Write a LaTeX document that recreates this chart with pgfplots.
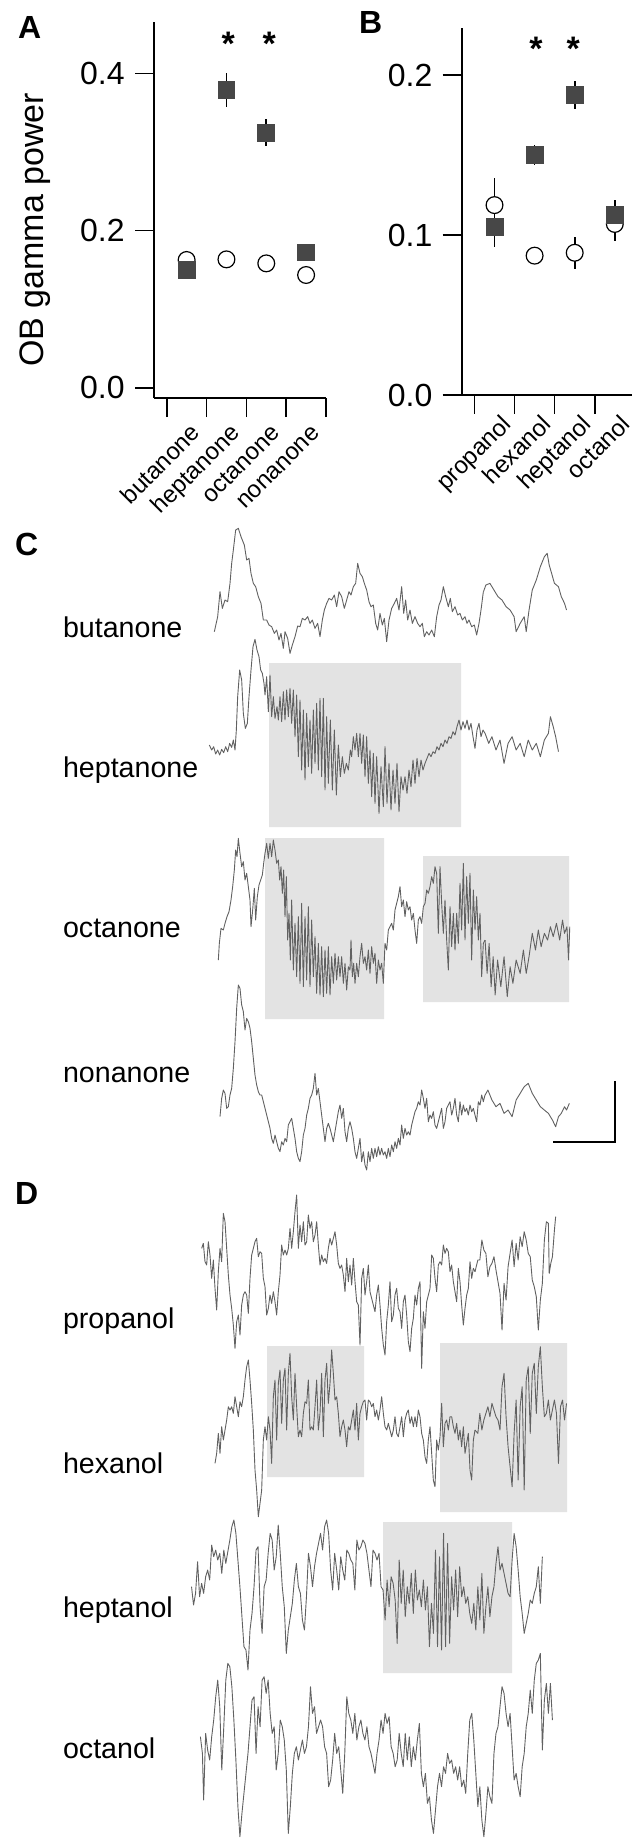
\documentclass[border=0pt]{standalone}
\usepackage{fontspec}
\setmainfont{Liberation Sans}
\usepackage{pgfplots}
\pgfplotsset{compat=1.18}
% 1 px of the reference = 0.5pt
\pgfplotsset{
  panel/.style={
    scale only axis, clip=false,
    axis lines=left, axis line style={-, line width=0.8pt},
    tick align=outside, major tick length=9.5pt,
    tick style={black, line width=0.8pt},
    xticklabels={,,,,,},
    /pgf/number format/assume math mode=true,
    yticklabel style={font=\fontsize{16}{18}\selectfont, anchor=east, inner sep=0pt, xshift=-5pt,
      /pgf/number format/fixed, /pgf/number format/fixed zerofill, /pgf/number format/precision=1},
  },
  errs/.style={forget plot, draw=none, mark=none,
    error bars/.cd, y dir=both, y explicit, error mark=none,
    error bar style={draw=black, line width=0.8pt}},
  odor/.style={only marks, mark=square*, mark size=4.2pt, mark options={draw=black!72, fill=black!72}},
  ctrl/.style={only marks, mark=*, mark size=4.2pt, mark options={draw=black, fill=white, line width=0.6pt}},
  trace/.style={black!62, line width=0.45pt, mark=none, line join=round},
  zc/.style n args={4}{x filter/.expression={#1+x/#3}, y filter/.expression={#2+y/#4}},
  gbox/.style={fill=black!11, draw=none, forget plot},
}
\tikzset{
  cat/.style={rotate=45, anchor=base east, inner sep=0pt, font=\fontsize{12}{14}\selectfont},
  lab/.style={anchor=base west, font=\fontsize{14.3}{16}\selectfont},
  letter/.style={anchor=base west, font=\fontsize{16}{18}\selectfont\bfseries},
  star/.style={anchor=base, font=\fontsize{17}{20}\selectfont\bfseries},
}
\begin{document}
\begin{tikzpicture}
\useasboundingbox (0,0) rectangle (316pt,-919.5pt);

% ---------------- panel A
\begin{axis}[panel, at={(77pt,-199pt)}, anchor=south west,
  width=86pt, height=188pt,
  xmin=-0.819, xmax=3.5, ymin=-0.0131, ymax=0.4653,
  xtick={-0.5,0.5,1.5,2.5,3.5},
  ytick={0,0.2,0.4},
  ylabel={OB gamma power},
  every axis y label/.style={at={(rel axis cs:-0.645,0.447)}, rotate=90, anchor=base,
    font=\fontsize{17}{20}\selectfont},
]
\addplot[errs] coordinates {
  (0,0.1497) +- (0,0.005)
  (1,0.3788) +- (0,0.0215)
  (2,0.3244) +- (0,0.0174)
  (3,0.1722) +- (0,0.004)
};
\addplot[ctrl] coordinates {(0,0.1625) (1,0.1633) (2,0.1582) (3,0.1434)};
\addplot[odor] coordinates {(0,0.1497) (1,0.3788) (2,0.3244) (3,0.1722)};
\node[cat] at (axis cs:0.377,-0.0589) {butanone};
\node[cat] at (axis cs:1.377,-0.0589) {heptanone};
\node[cat] at (axis cs:2.377,-0.0589) {octanone};
\node[cat] at (axis cs:3.377,-0.0589) {nonanone};
\end{axis}

% ---------------- panel B
\begin{axis}[panel, at={(230.85pt,-197.5pt)}, anchor=south west,
  width=85.15pt, height=183.5pt,
  xmin=-0.818, xmax=3.429, ymin=0, ymax=0.2294,
  xtick={-0.5,0.5,1.5,2.5},
  ytick={0,0.1,0.2},
]
\addplot[errs] coordinates {
  (0,0.1187) +- (0,0.017)
  (0,0.1052) +- (0,0.013)
  (1,0.1500) +- (0,0.006)
  (2,0.1875) +- (0,0.0085)
  (2,0.0889) +- (0,0.010)
  (3,0.1125) +- (0,0.0094)
  (3,0.1069) +- (0,0.0104)
};
\addplot[ctrl] coordinates {(0,0.1187) (1,0.0871) (2,0.0889) (3,0.1069)};
\addplot[odor] coordinates {(0,0.1052) (1,0.1500) (2,0.1875) (3,0.1125)};
\node[cat] at (axis cs:0.449,-0.0191) {propanol};
\node[cat] at (axis cs:1.449,-0.0191) {hexanol};
\node[cat] at (axis cs:2.449,-0.0191) {heptanol};
\node[cat] at (axis cs:3.42,-0.0191) {octanol};
\end{axis}

% ---------------- panels C and D, in reference pixels
\begin{axis}[at={(0pt,0pt)}, anchor=north west, scale only axis,
  width=316pt, height=919.5pt, hide axis, clip=false,
  xmin=0, xmax=632, ymin=0, ymax=1839, y dir=reverse]

% gamma episodes
\addplot[gbox] coordinates {(269,663) (461,663) (461,827) (269,827) (269,663)};
\addplot[gbox] coordinates {(265,838) (384,838) (384,1019) (265,1019) (265,838)};
\addplot[gbox] coordinates {(423,856) (569,856) (569,1002) (423,1002) (423,856)};
\addplot[gbox] coordinates {(267,1346) (364,1346) (364,1477) (267,1477) (267,1346)};
\addplot[gbox] coordinates {(440,1343) (567,1343) (567,1512) (440,1512) (440,1343)};
\addplot[gbox] coordinates {(383,1522) (512,1522) (512,1673) (383,1673) (383,1522)};

% butanone
\addplot[trace, zc={165}{520}{3}{3}] coordinates {
(148,335)(158,290)(165,215)(172,265)(180,240)(188,245)(195,190)(200,130)(205,90)(212,30)
(220,25)(228,50)(238,75)(245,120)(252,115)(258,160)(265,190)(272,200)(280,230)(288,250)
(295,300)(305,300)(312,315)(320,320)(328,340)(335,330)(342,360)(348,340)(355,385)(360,335)
(368,355)(375,400)(382,375)(390,350)(398,318)(405,320)(412,295)(420,300)(428,290)(435,310)
(442,300)(450,325)(458,310)(465,350)(472,300)(478,270)(485,250)(492,235)(500,240)(508,225)
(515,260)(522,215)(530,230)(538,265)(545,240)(552,215)(558,225)(565,200)(572,190)(578,130)
(585,160)(592,170)(598,190)(605,210)(612,245)(618,260)(625,255)(632,310)(638,330)(645,280)
(652,315)(658,295)(665,365)(672,300)(680,265)(688,250)(695,235)(702,270)(710,200)(716,280)
(722,240)(728,300)(735,270)(742,310)(750,290)(758,310)(765,320)(772,310)(778,350)(785,335)
(792,345)(800,330)(808,350)(815,290)(822,255)(828,240)(835,200)(842,230)(850,260)(856,235)
(862,275)(870,260)(878,285)(885,280)(892,300)(900,290)(906,310)(912,300)(920,320)(928,315)
(935,345)(942,310)(948,270)(955,215)};
\addplot[trace, zc={0}{450}{2.48}{3}] coordinates {
(1199,425)(1205,405)(1215,400)(1225,420)(1235,440)(1245,450)(1255,470)(1265,480)(1275,500)
(1280,545)(1290,520)(1300,500)(1305,545)(1312,480)(1320,420)(1330,390)(1340,350)(1350,320)
(1357,310)(1362,345)(1368,370)(1375,400)(1385,410)(1392,440)(1400,460)(1405,480)};

% heptanone
\addplot[trace, zc={165}{630}{3}{3}] coordinates {
(133,345)(140,360)(146,350)(152,372)(158,360)(164,375)(170,358)(176,368)(182,350)(188,365)
(194,340)(200,352)(205,330)(210,360)(214,300)(218,200)(224,120)(230,150)(235,250)(241,295)
(247,280)(252,200)(258,120)(264,50)(270,28)(276,60)(282,80)(287,120)(292,130)(297,160)
(300,195)(305,140)(310,245)(315,135)(320,260)(325,200)(330,265)(336,230)(340,270)(345,200)
(350,275)(355,185)(360,270)(365,180)(370,260)(375,175)(380,280)(385,180)(390,320)(395,195)
(400,380)(405,210)(410,420)(415,240)(420,450)(425,250)(430,410)(435,270)(440,430)(445,240)
(450,400)(455,220)(460,420)(465,205)(470,440)(475,205)(480,480)(485,260)(490,460)(496,270)
(502,480)(508,300)(514,495)(520,345)(526,440)(532,380)(538,430)(544,400)(550,420)(556,360)
(560,380)(565,320)(570,360)(575,310)(580,380)(585,310)(590,400)(595,315)(600,440)(605,320)
(610,460)(615,360)(620,500)(625,370)(630,520)(635,380)(642,550)(648,410)(655,530)(660,350)
(666,520)(672,400)(678,540)(684,420)(690,520)(696,400)(702,545)(708,440)(714,480)(720,440)
(726,490)(732,420)(738,470)(744,390)(750,460)(756,385)(762,440)(768,390)(774,420)(780,400)
(786,385)(792,370)(798,380)(804,365)(810,370)(816,350)(822,360)(828,340)(834,350)(840,330)
(846,340)(852,320)(858,325)(864,305)(870,315)(876,290)(882,270)(888,300)(894,275)(900,295)
(906,270)(912,300)(918,280)(924,320)(930,355)(936,300)(942,280)(948,320)(954,300)(960,310)};
\addplot[trace, zc={0}{450}{2.48}{3}] coordinates {
(1203,850)(1212,880)(1220,860)(1230,900)(1240,870)(1250,940)(1260,880)(1270,860)(1280,900)
(1290,880)(1300,920)(1310,870)(1320,900)(1330,880)(1340,920)(1350,870)(1360,850)(1365,800)
(1372,830)(1378,860)(1385,905)};

% octanone
\addplot[trace, zc={165}{830}{3}{3}] coordinates {
(160,390)(163,340)(168,295)(175,300)(180,280)(186,260)(192,245)(198,210)(203,170)(208,120)
(212,60)(216,80)(220,25)(225,70)(230,110)(235,95)(240,150)(245,130)(250,170)(255,210)
(258,290)(263,240)(268,175)(272,270)(277,200)(282,165)(287,150)(292,135)(296,100)(300,70)
(305,40)(310,85)(315,40)(320,80)(325,30)(330,60)(335,100)(340,90)(344,150)(348,110)
(352,190)(356,120)(360,260)(364,140)(368,330)(372,250)(376,390)(380,210)(385,420)(390,280)
(395,440)(400,260)(405,460)(410,220)(415,470)(420,260)(425,450)(430,230)(435,470)(440,270)
(445,440)(450,320)(455,490)(460,340)(465,495)(470,350)(475,500)(480,360)(485,490)(490,350)
(495,495)(500,380)(505,460)(510,370)(515,450)(520,380)(525,440)(530,380)(535,460)(540,400)
(545,480)(550,410)(555,420)(558,330)(562,440)(566,400)(570,460)(575,400)(580,440)(585,380)
(590,340)(595,400)(600,380)(605,420)(610,360)(615,430)(620,350)(625,400)(630,370)(635,460)
(640,390)(645,420)(650,400)(655,460)(660,340)(665,360)(670,300)(675,290)(680,280)(685,300)
(690,240)(695,220)(700,200)(705,170)(710,230)(715,210)(720,260)(725,215)(730,240)(735,230)
(740,270)(745,250)(750,300)(755,340)(760,270)(765,260)(770,280)(775,230)(780,220)(785,180)
(790,190)(795,170)(800,140)(805,160)(810,110)(815,130)(820,310)(825,110)(830,220)(835,310)
(840,210)(845,330)(850,420)(855,230)(860,350)(865,250)(870,360)(875,250)(880,340)(885,160)
(890,300)(895,100)(900,330)(905,140)(910,280)(915,130)(920,390)(925,180)(930,300)(935,200)
(940,330)(945,250)(950,440)(955,340)(960,330)};
\addplot[trace, zc={0}{800}{2.48}{3}] coordinates {
(1203,420)(1208,520)(1213,430)(1218,560)(1223,470)(1228,585)(1234,480)(1242,560)(1250,470)
(1258,590)(1265,500)(1272,550)(1280,480)(1290,520)(1298,450)(1305,520)(1312,470)(1320,400)
(1328,450)(1335,390)(1342,440)(1350,400)(1358,420)(1365,380)(1372,410)(1380,370)(1388,420)
(1395,360)(1400,400)(1406,380)(1410,480)(1413,380)};

% nonanone
\addplot[trace, zc={165}{975}{3}{3}] coordinates {
(165,425)(170,370)(175,345)(180,355)(185,400)(190,395)(195,360)(200,340)(205,280)(210,200)
(215,100)(220,30)(225,40)(230,90)(235,110)(240,165)(245,130)(250,140)(255,160)(260,200)
(265,250)(270,300)(275,330)(280,350)(285,360)(290,360)(295,380)(300,400)(305,420)(310,440)
(315,460)(320,490)(325,505)(330,480)(335,500)(340,520)(345,530)(350,500)(355,510)(360,490)
(365,500)(370,450)(375,440)(380,430)(385,460)(390,490)(395,530)(400,550)(405,560)(410,530)
(415,480)(420,460)(425,420)(430,400)(435,370)(440,360)(445,340)(450,295)(455,360)(460,340)
(465,380)(470,420)(475,460)(480,500)(485,460)(490,445)(495,460)(500,480)(505,500)(510,470)
(515,440)(520,410)(525,390)(530,430)(535,400)(540,470)(545,500)(550,460)(555,440)(560,460)
(565,490)(570,530)(575,550)(580,520)(585,490)(590,560)(595,530)(600,570)(605,585)(610,530)
(615,560)(620,520)(625,550)(630,520)(635,545)(640,515)(645,540)(650,520)(655,540)(660,530)
(665,550)(670,520)(675,545)(680,510)(685,530)(690,500)(695,520)(700,490)(705,510)(710,450)
(715,490)(720,460)(725,480)(730,470)(735,480)(740,450)(745,430)(750,410)(755,400)(760,380)
(765,390)(770,345)(775,370)(780,400)(785,370)(790,440)(795,420)(800,430)(805,410)(810,450)
(815,460)(820,440)(825,420)(830,400)(835,460)(840,440)(845,400)(850,390)(855,380)(860,420)
(865,400)(870,370)(875,420)(880,440)(885,380)(890,420)(895,390)(900,410)(905,400)(910,420)
(915,390)(920,410)(925,400)(930,420)(935,440)(940,380)(945,390)(950,360)(955,380)(960,360)};
\addplot[trace, zc={0}{800}{2.48}{3}] coordinates {
(1203,885)(1210,870)(1220,900)(1230,920)(1240,910)(1250,940)(1260,930)(1270,950)(1280,900)
(1290,880)(1300,860)(1310,850)(1320,880)(1330,900)(1340,920)(1350,930)(1360,940)(1370,960)
(1378,980)(1385,950)(1392,940)(1400,920)(1405,930)(1412,910)};

% scale bar
\addplot[black, line width=0.75pt, mark=none] coordinates {(553,1142) (615,1142) (615,1081)};

% propanol
\addplot[trace, zc={155}{1195}{3}{3}] coordinates {
(140,160)(145,145)(150,200)(155,210)(160,140)(165,180)(170,250)(175,195)(180,280)(185,345)
(190,230)(195,160)(200,200)(205,55)(210,80)(215,160)(220,240)(225,300)(230,340)(235,390)
(240,460)(245,380)(250,360)(255,420)(260,330)(265,300)(270,290)(275,300)(280,355)(285,250)
(290,180)(295,160)(300,140)(305,130)(310,185)(315,170)(320,175)(325,250)(330,275)(335,360)
(340,340)(345,300)(350,325)(355,290)(360,320)(365,360)(370,290)(375,240)(380,150)(385,180)
(390,165)(395,180)(400,160)(405,100)(410,160)(415,110)(420,50)(425,0)(430,160)(435,90)
(440,140)(445,80)(450,150)(455,140)(460,60)(465,100)(470,80)(475,140)(480,120)(485,80)
(490,150)(495,210)(500,180)(505,200)(510,190)(515,205)(520,160)(525,130)(530,150)(535,130)
(540,110)(545,150)(550,205)(555,220)(560,210)(565,240)(570,290)(575,190)(580,260)(585,210)
(590,270)(595,190)(600,260)(605,320)(610,330)(615,450)(620,250)(625,220)(630,300)(635,260)
(640,210)(645,290)(650,310)(655,330)(660,350)(665,300)(670,270)(675,330)(680,400)(685,450)
(690,480)(695,380)(700,330)(705,260)(710,380)(715,360)(720,300)(725,280)(730,340)(735,350)
(740,400)(745,320)(750,300)(755,360)(760,440)(765,470)(770,400)(775,370)(780,300)(785,330)
(790,280)(795,260)(800,520)(805,350)(810,400)(815,320)(820,300)(825,280)(830,180)(835,190)
(840,250)(845,290)(850,210)(855,200)(860,210)(865,150)(870,175)(875,160)(880,170)(885,230)
(890,210)(895,260)(900,290)(905,320)(910,220)(915,260)(920,330)(925,390)(930,340)(935,300)
(940,280)(945,200)(950,250)(955,220)(960,230)};
\addplot[trace, zc={0}{1200}{2.48}{3}] coordinates {
(1178,215)(1185,180)(1190,180)(1195,120)(1200,150)(1205,160)(1210,230)(1215,200)(1220,190)
(1225,170)(1230,210)(1240,280)(1245,390)(1250,250)(1255,300)(1260,200)(1265,160)(1270,120)
(1275,200)(1280,130)(1285,180)(1290,110)(1295,140)(1300,95)(1305,120)(1310,160)(1315,170)
(1320,240)(1325,260)(1330,290)(1335,390)(1340,300)(1345,250)(1350,120)(1355,65)(1360,70)
(1362,220)(1366,190)(1370,170)(1375,90)(1378,50)};

% hexanol
\addplot[trace, zc={155}{1330}{3}{3}] coordinates {
(180,400)(185,370)(190,310)(195,370)(200,290)(205,330)(210,300)(215,270)(220,230)(225,240)
(230,230)(235,250)(240,200)(245,230)(250,260)(255,215)(260,230)(265,200)(270,150)(275,110)
(280,90)(285,150)(290,220)(295,300)(300,420)(305,480)(310,560)(315,520)(320,480)(325,330)
(330,290)(335,330)(340,260)(345,300)(350,400)(355,200)(360,150)(365,330)(370,160)(375,120)
(380,280)(385,150)(390,115)(395,300)(400,130)(405,70)(410,200)(415,270)(420,130)(425,230)
(430,320)(435,300)(440,320)(445,250)(450,215)(455,220)(460,150)(465,300)(470,290)(475,300)
(480,230)(485,150)(490,300)(495,250)(500,130)(505,320)(510,150)(515,100)(520,220)(525,160)
(530,60)(535,130)(540,210)(545,200)(550,250)(555,320)(560,290)(565,270)(570,300)(575,350)
(580,290)(585,300)(590,270)(595,240)(600,300)(605,220)(610,330)(615,250)(620,230)(625,215)
(630,210)(635,270)(640,210)(645,215)(650,230)(655,220)(660,260)(665,240)(670,270)(675,240)
(680,200)(685,250)(690,290)(695,300)(700,280)(705,300)(710,320)(715,300)(720,260)(725,310)
(730,320)(735,290)(740,260)(745,320)(750,270)(755,250)(760,240)(765,280)(770,260)(775,290)
(780,260)(785,290)(790,240)(795,260)(800,310)(805,330)(810,380)(815,400)(820,330)(825,290)
(830,370)(835,450)(840,470)(845,330)(850,360)(855,320)(860,220)(865,350)(870,280)(875,270)
(880,300)(885,260)(890,260)(895,290)(900,310)(905,280)(910,330)(915,300)(920,350)(925,290)
(930,370)(935,340)(940,310)(945,420)(950,450)(955,330)(960,300)};
\addplot[trace, zc={0}{1200}{2.48}{3}] coordinates {
(1178,690)(1185,700)(1190,640)(1195,690)(1200,660)(1205,640)(1210,620)(1215,650)(1220,610)
(1225,630)(1230,650)(1235,660)(1240,690)(1245,560)(1250,520)(1255,650)(1260,740)(1265,800)
(1270,860)(1275,700)(1280,600)(1285,840)(1290,620)(1295,560)(1300,870)(1305,540)(1310,500)
(1315,700)(1320,520)(1325,490)(1330,640)(1335,500)(1340,440)(1345,560)(1350,650)(1355,640)
(1360,600)(1365,660)(1370,630)(1375,600)(1380,640)(1385,790)(1390,620)(1395,600)(1400,660)
(1405,610)};

% heptanol
\addplot[trace, zc={0}{1520}{2.48}{3}] coordinates {
(475,200)(480,255)(485,220)(490,125)(495,230)(500,190)(505,220)(510,170)(515,150)(520,180)
(525,75)(530,110)(535,90)(540,120)(545,100)(550,160)(555,90)(560,130)(565,95)(570,60)
(575,20)(580,0)(585,40)(590,120)(595,200)(600,290)(605,380)(610,390)(615,450)(620,330)
(625,280)(630,200)(635,90)(640,80)(645,260)(650,340)(655,200)(660,180)(665,100)(670,40)
(675,60)(680,150)(685,110)(690,15)(695,100)(700,200)(705,260)(710,400)(715,330)(720,290)
(725,250)(730,180)(735,130)(740,200)(745,220)(750,300)(755,330)(760,230)(765,100)(770,140)
(775,200)(780,140)(785,100)(790,70)(795,40)(800,90)(805,20)(810,0)(815,40)(820,150)
(825,210)(830,100)(835,150)(840,210)(845,110)(850,150)(855,180)(860,90)(865,100)(870,120)
(875,130)(880,210)(885,60)(890,90)(895,80)(900,60)(905,70)(910,100)(915,150)(920,200)
(925,90)(930,100)(935,120)(940,100)(945,200)(950,210)(955,300)(960,180)(965,260)(970,170)
(975,190)(980,240)(985,370)(990,120)(995,250)(1000,150)(1005,290)(1010,200)(1015,250)(1020,160)
(1025,280)(1030,150)(1035,240)(1040,210)(1045,260)(1050,180)(1055,270)(1060,200)(1065,380)(1070,250)
(1075,340)(1080,90)(1085,380)(1090,110)(1095,390)(1100,40)(1105,380)(1110,70)(1115,370)(1120,170)
(1125,270)(1130,150)(1135,290)(1140,140)(1145,230)(1150,200)(1155,250)(1160,230)(1165,280)(1170,310)
(1175,250)(1180,330)(1185,200)(1190,300)(1195,160)(1200,340)(1205,260)(1210,200)(1215,290)(1220,230)
(1225,200)(1230,130)(1235,80)(1240,150)(1245,130)(1250,160)(1255,190)(1260,220)(1265,230)(1270,120)
(1275,40)(1280,80)(1285,150)(1290,230)(1295,280)(1300,340)(1305,310)(1310,280)(1315,240)(1320,250)
(1325,220)(1330,200)(1335,140)(1340,250)(1345,110)};

% octanol
\addplot[trace, zc={0}{1520}{2.48}{3}] coordinates {
(497,650)(502,700)(505,840)(510,640)(515,690)(520,720)(525,650)(530,600)(535,530)(540,480)
(545,560)(550,750)(555,620)(560,480)(565,430)(570,440)(575,500)(580,600)(585,720)(590,860)
(595,950)(600,880)(605,820)(610,760)(615,700)(620,620)(625,540)(630,530)(635,700)(640,560)
(645,620)(650,480)(655,470)(660,520)(665,480)(670,580)(675,640)(680,620)(685,750)(690,700)
(695,600)(700,620)(705,660)(710,750)(715,940)(720,860)(725,760)(730,700)(735,680)(740,720)
(745,690)(750,660)(755,700)(760,680)(765,620)(770,500)(775,580)(780,560)(785,640)(790,620)
(795,600)(800,620)(805,680)(810,700)(815,800)(820,780)(825,720)(830,640)(835,700)(840,680)
(845,750)(850,820)(855,700)(860,530)(865,580)(870,600)(875,640)(880,580)(885,660)(890,620)
(895,600)(900,640)(905,660)(910,620)(915,680)(920,700)(925,730)(930,760)(935,700)(940,660)
(945,600)(950,640)(955,580)(960,610)(965,590)(970,680)(975,700)(980,740)(985,720)(990,640)
(995,700)(1000,740)(1005,640)(1010,720)(1015,650)(1020,740)(1025,680)(1030,720)(1035,660)(1040,610)
(1045,760)(1050,800)(1055,760)(1060,850)(1065,830)(1070,900)(1075,940)(1080,870)(1085,800)(1090,760)
(1095,800)(1100,740)(1105,760)(1110,700)(1115,730)(1120,720)(1125,760)(1130,740)(1135,780)(1140,740)
(1145,800)(1150,780)(1155,820)(1160,700)(1165,600)(1170,580)(1175,660)(1180,760)(1185,860)(1190,800)
(1195,900)(1200,950)(1205,880)(1210,800)(1215,830)(1220,850)(1225,700)(1230,640)(1235,620)(1240,560)
(1245,500)(1250,520)(1255,580)(1260,620)(1265,580)(1270,680)(1275,780)(1280,760)(1285,800)(1290,830)
(1295,740)(1300,700)(1305,620)(1310,580)(1315,510)(1320,580)(1325,480)(1330,430)(1335,420)(1340,400)
(1345,690)(1350,540)(1355,490)(1360,580)(1365,490)(1370,600)};

% labels
\node[letter] at (axis cs:11,38) {A};
\node[letter] at (axis cs:352,33) {B};
\node[letter] at (axis cs:8,555) {C};
\node[letter] at (axis cs:8,1204) {D};
\node[star] at (axis cs:228.3,55) {*};
\node[star] at (axis cs:269.3,55) {*};
\node[star] at (axis cs:536,60) {*};
\node[star] at (axis cs:573.3,60) {*};
\node[lab] at (axis cs:56,637) {butanone};
\node[lab] at (axis cs:56,777) {heptanone};
\node[lab] at (axis cs:56,937) {octanone};
\node[lab] at (axis cs:56,1082) {nonanone};
\node[lab] at (axis cs:56,1328) {propanol};
\node[lab] at (axis cs:56,1473) {hexanol};
\node[lab] at (axis cs:56,1617) {heptanol};
\node[lab] at (axis cs:56,1758) {octanol};
\end{axis}
\end{tikzpicture}
\end{document}
